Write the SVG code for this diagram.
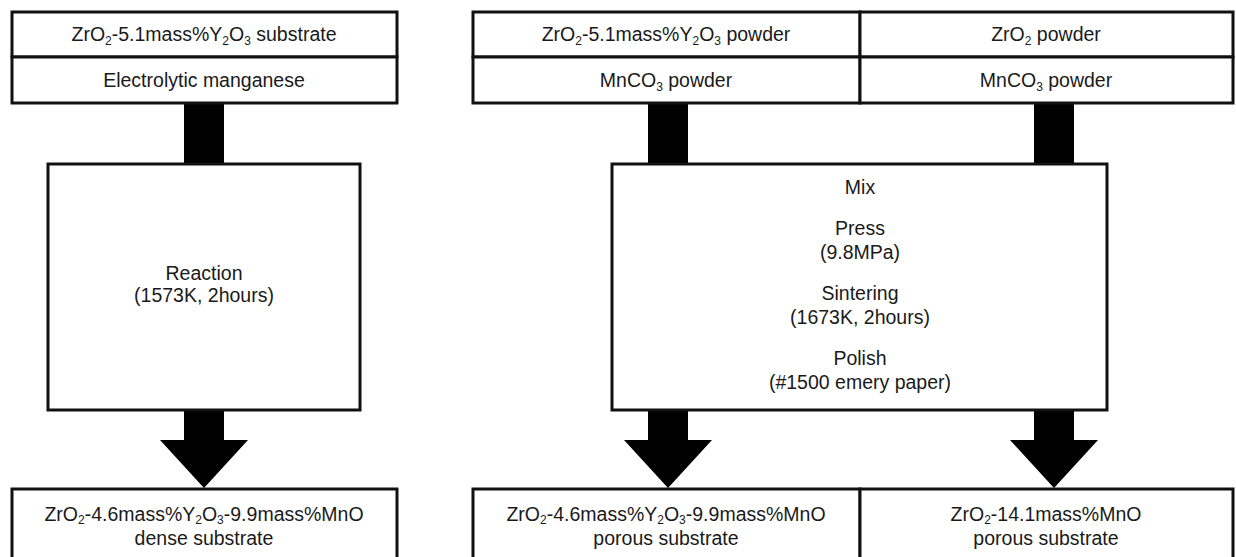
<svg xmlns="http://www.w3.org/2000/svg" width="1236" height="557" viewBox="0 0 1236 557">
<style>
.box{fill:#fff;stroke:#111;stroke-width:3}
.t{font-family:"Liberation Sans",Arial,sans-serif;font-size:19.5px;fill:#1a1a1a;text-anchor:middle}
.s{font-size:12px}
.arr{fill:#000}
</style>
<rect width="1236" height="557" fill="#fff"/>
<g id="connectors">
<polygon class="arr" points="184,101 224,101 224,165 184,165"/>
<polygon class="arr" points="648,101 688,101 688,165 648,165"/>
<polygon class="arr" points="1034,101 1074,101 1074,165 1034,165"/>
<polygon class="arr" points="184,408 224,408 224,440 248,440 204,488 160,440 184,440"/>
<polygon class="arr" points="648,408 688,408 688,440 712,440 668,488 624,440 648,440"/>
<polygon class="arr" points="1034,408 1074,408 1074,440 1098,440 1054,488 1010,440 1034,440"/>
</g>
<g id="substrate">
<rect class="box" x="12" y="12" width="385" height="45"/>
<text class="t" x="204" y="41">ZrO<tspan class="s" dy="4">2</tspan><tspan dy="-4">-5.1mass%Y</tspan><tspan class="s" dy="4">2</tspan><tspan dy="-4">O</tspan><tspan class="s" dy="4">3</tspan><tspan dy="-4"> substrate</tspan></text>
</g>
<g id="manganese">
<rect class="box" x="12" y="57" width="385" height="46"/>
<text class="t" x="204" y="87">Electrolytic manganese</text>
</g>
<g id="ysz-powder">
<rect class="box" x="473" y="12" width="387" height="45"/>
<text class="t" x="666" y="41">ZrO<tspan class="s" dy="4">2</tspan><tspan dy="-4">-5.1mass%Y</tspan><tspan class="s" dy="4">2</tspan><tspan dy="-4">O</tspan><tspan class="s" dy="4">3</tspan><tspan dy="-4"> powder</tspan></text>
</g>
<g id="zro2-powder">
<rect class="box" x="860" y="12" width="373" height="45"/>
<text class="t" x="1046" y="41">ZrO<tspan class="s" dy="4">2</tspan><tspan dy="-4"> powder</tspan></text>
</g>
<g id="mnco3-1">
<rect class="box" x="473" y="57" width="387" height="46"/>
<text class="t" x="666" y="87">MnCO<tspan class="s" dy="4">3</tspan><tspan dy="-4"> powder</tspan></text>
</g>
<g id="mnco3-2">
<rect class="box" x="860" y="57" width="373" height="46"/>
<text class="t" x="1046" y="87">MnCO<tspan class="s" dy="4">3</tspan><tspan dy="-4"> powder</tspan></text>
</g>
<g id="reaction">
<rect class="box" x="48" y="164" width="312" height="246"/>
<text class="t" x="204" y="280">Reaction</text>
<text class="t" x="204" y="302">(1573K, 2hours)</text>
</g>
<g id="process">
<rect class="box" x="612" y="164" width="495" height="246"/>
<text class="t" x="860" y="194">Mix</text>
<text class="t" x="860" y="235">Press</text>
<text class="t" x="860" y="259">(9.8MPa)</text>
<text class="t" x="860" y="300">Sintering</text>
<text class="t" x="860" y="324">(1673K, 2hours)</text>
<text class="t" x="860" y="365">Polish</text>
<text class="t" x="860" y="389">(#1500 emery paper)</text>
</g>
<g id="dense">
<rect class="box" x="12" y="489" width="385" height="90"/>
<text class="t" x="204" y="521">ZrO<tspan class="s" dy="3">2</tspan><tspan dy="-3">-4.6mass%Y</tspan><tspan class="s" dy="3">2</tspan><tspan dy="-3">O</tspan><tspan class="s" dy="3">3</tspan><tspan dy="-3">-9.9mass%MnO</tspan></text>
<text class="t" x="204" y="545">dense substrate</text>
</g>
<g id="porous-ysz">
<rect class="box" x="473" y="489" width="387" height="90"/>
<text class="t" x="666" y="521">ZrO<tspan class="s" dy="3">2</tspan><tspan dy="-3">-4.6mass%Y</tspan><tspan class="s" dy="3">2</tspan><tspan dy="-3">O</tspan><tspan class="s" dy="3">3</tspan><tspan dy="-3">-9.9mass%MnO</tspan></text>
<text class="t" x="666" y="545">porous substrate</text>
</g>
<g id="porous-zro2">
<rect class="box" x="860" y="489" width="373" height="90"/>
<text class="t" x="1046" y="521">ZrO<tspan class="s" dy="3">2</tspan><tspan dy="-3">-14.1mass%MnO</tspan></text>
<text class="t" x="1046" y="545">porous substrate</text>
</g>
</svg>
